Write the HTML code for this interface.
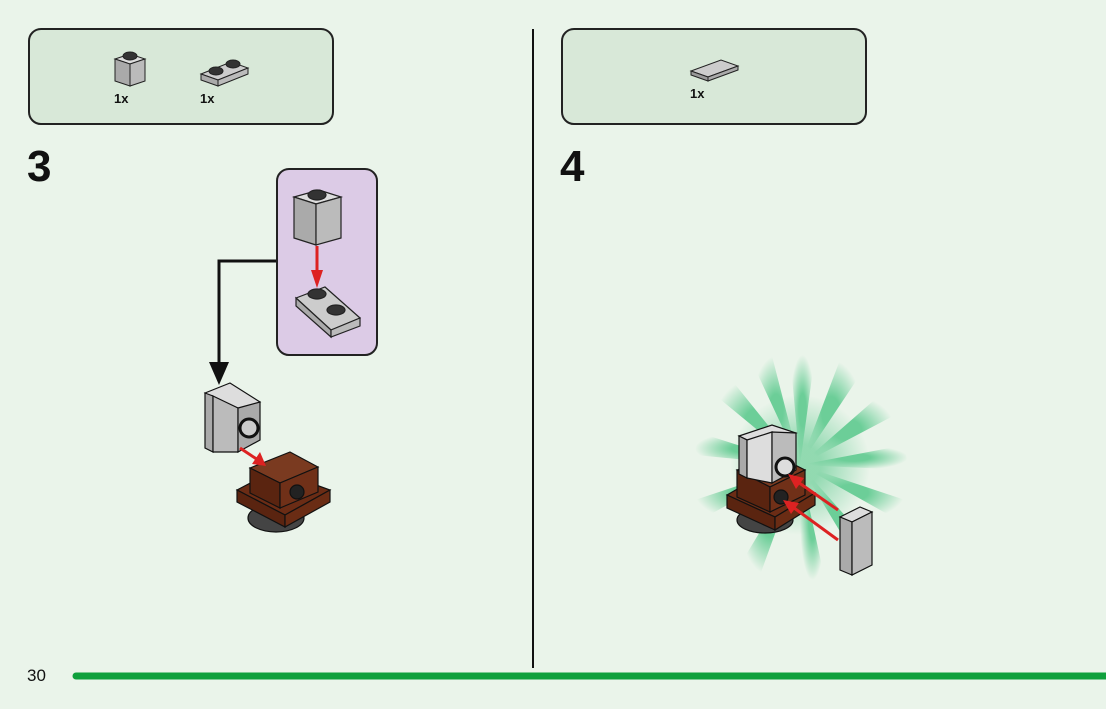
<!DOCTYPE html>
<html><head><meta charset="utf-8"><style>
html,body{margin:0;padding:0;background:#eaf4ea;}
svg{display:block}
text{font-family:"Liberation Sans",sans-serif;}
</style></head><body>
<svg width="1106" height="709" viewBox="0 0 1106 709" xmlns="http://www.w3.org/2000/svg">
<defs>
<radialGradient id="g" cx="0.5" cy="0.5" r="0.5">
<stop offset="0.3" stop-color="#6cce98" stop-opacity="1"/>
<stop offset="1" stop-color="#6cce98" stop-opacity="0"/>
</radialGradient>
</defs>
<rect width="1106" height="709" fill="#eaf4ea"/>
<rect x="29" y="29" width="304" height="95" rx="12" fill="#d8e8d8" stroke="#222" stroke-width="2"/>
<rect x="562" y="29" width="304" height="95" rx="12" fill="#d8e8d8" stroke="#222" stroke-width="2"/>
<g stroke="#222" stroke-width="1">
<polygon points="115,59 130,54 145,59 130,64" fill="#ddd"/>
<polygon points="115,59 130,64 130,86 115,81" fill="#aaa"/>
<polygon points="130,64 145,59 145,81 130,86" fill="#bbb"/>
<ellipse cx="130" cy="56" rx="7" ry="4" fill="#333"/>
<polygon points="201,74 231,62 248,68 218,80" fill="#ccc"/>
<polygon points="201,74 218,80 218,86 201,80" fill="#aaa"/>
<polygon points="218,80 248,68 248,74 218,86" fill="#bbb"/>
<ellipse cx="216" cy="71" rx="7" ry="4" fill="#333"/>
<ellipse cx="233" cy="64" rx="7" ry="4" fill="#333"/>
<polygon points="691,71 721,60 738,66 708,77" fill="#ccc"/>
<polygon points="691,71 708,77 708,81 691,75" fill="#999"/>
<polygon points="708,77 738,66 738,70 708,81" fill="#aaa"/>
</g>
<text x="114" y="103" font-size="13" font-weight="bold" fill="#111">1x</text>
<text x="200" y="103" font-size="13" font-weight="bold" fill="#111">1x</text>
<text x="690" y="98" font-size="13" font-weight="bold" fill="#111">1x</text>
<text x="27" y="181" font-size="44" font-weight="bold" fill="#111">3</text>
<text x="560" y="181" font-size="44" font-weight="bold" fill="#111">4</text>
<line x1="533" y1="29" x2="533" y2="668" stroke="#111" stroke-width="2"/>
<text x="27" y="681" font-size="17" fill="#111">30</text>
<line x1="76" y1="676" x2="1106" y2="676" stroke="#0fa03c" stroke-width="7" stroke-linecap="round"/>
<polyline points="277,261 219,261 219,370" fill="none" stroke="#111" stroke-width="3"/>
<polygon points="209,362 229,362 219,385" fill="#111"/>
<rect x="277" y="169" width="100" height="186" rx="12" fill="#dccbe6" stroke="#222" stroke-width="2"/>
<g stroke="#222" stroke-width="1.2">
<polygon points="294,197 319,190 341,197 316,204" fill="#ddd"/>
<polygon points="294,197 316,204 316,245 294,238" fill="#aaa"/>
<polygon points="316,204 341,197 341,238 316,245" fill="#bbb"/>
<ellipse cx="317" cy="195" rx="9" ry="5" fill="#333"/>
<polygon points="296,298 325,287 360,318 331,330" fill="#ccc"/>
<polygon points="296,298 331,330 331,337 296,306" fill="#aaa"/>
<polygon points="331,330 360,318 360,326 331,337" fill="#bbb"/>
<ellipse cx="317" cy="294" rx="9" ry="5" fill="#333"/>
<ellipse cx="336" cy="310" rx="9" ry="5" fill="#333"/>
</g>
<line x1="317" y1="246" x2="317" y2="275" stroke="#d22" stroke-width="3"/>
<polygon points="311,270 323,270 317,288" fill="#d22"/>
<g stroke="#111" stroke-width="1.2">
<ellipse cx="276" cy="518" rx="28" ry="14" fill="#444"/>
<polygon points="237,490 275,470 330,490 285,515" fill="#6b2c15"/>
<polygon points="237,490 285,515 285,527 237,502" fill="#5a2410"/>
<polygon points="285,515 330,490 330,502 285,527" fill="#6a2c14"/>
<polygon points="250,468 290,452 318,467 280,483" fill="#7a3a20"/>
<polygon points="250,468 280,483 280,508 250,493" fill="#5a2410"/>
<polygon points="280,483 318,467 318,492 280,508" fill="#703018"/>
<circle cx="297" cy="492" r="7" fill="#222"/>
<polygon points="205,393 230,383 260,402 235,412" fill="#ddd"/>
<polygon points="205,393 213,396 213,452 205,448" fill="#aaa"/>
<polygon points="213,396 238,408 238,452 213,452" fill="#bbb"/>
<polygon points="238,408 260,402 260,440 238,452" fill="#aaa"/>
<circle cx="249" cy="428" r="9" fill="#ccc" stroke-width="3"/>
</g>
<line x1="240" y1="448" x2="258" y2="460" stroke="#d22" stroke-width="3"/>
<polygon points="252,464 266,466 260,452" fill="#d22"/>
<!-- burst rays -->
<g fill="url(#g)">
<polygon points="800,465 790,355 815,355"/>
<polygon points="800,465 840,360 862,372"/>
<polygon points="800,465 880,395 895,415"/>
<polygon points="800,465 905,445 908,470"/>
<polygon points="800,465 905,500 898,520"/>
<polygon points="800,465 880,555 862,568"/>
<polygon points="800,465 825,580 800,580"/>
<polygon points="800,465 760,575 740,565"/>
<polygon points="800,465 700,520 695,500"/>
<polygon points="800,465 695,455 697,432"/>
<polygon points="800,465 715,395 730,378"/>
<polygon points="800,465 752,362 772,356"/>
</g>
<circle cx="800" cy="465" r="70" fill="url(#g)" opacity="0.7"/>
<g stroke="#111" stroke-width="1.2">
<ellipse cx="765" cy="520" rx="28" ry="13" fill="#444"/>
<polygon points="727,495 765,473 815,493 775,517" fill="#6b2c15"/>
<polygon points="727,495 775,517 775,530 727,508" fill="#5a2410"/>
<polygon points="775,517 815,493 815,505 775,530" fill="#6a2c14"/>
<polygon points="737,470 775,455 805,470 770,487" fill="#7a3a20"/>
<polygon points="737,470 770,487 770,512 737,497" fill="#5a2410"/>
<polygon points="770,487 805,470 805,495 770,512" fill="#703018"/>
<circle cx="781" cy="497" r="7" fill="#222"/>
<polygon points="739,436 772,425 796,433 760,446" fill="#ddd"/>
<polygon points="739,436 747,440 747,478 739,474" fill="#aaa"/>
<polygon points="747,440 772,432 772,483 747,478" fill="#ddd"/>
<polygon points="772,432 796,433 796,470 772,483" fill="#bbb"/>
<circle cx="785" cy="467" r="9" fill="#ddd" stroke-width="3"/>
<polygon points="840,517 860,507 872,512 852,522" fill="#ddd"/>
<polygon points="840,517 852,522 852,575 840,570" fill="#aaa"/>
<polygon points="852,522 872,512 872,565 852,575" fill="#bbb"/>
</g>
<line x1="838" y1="510" x2="795" y2="480" stroke="#d22" stroke-width="3"/>
<polygon points="788,474 804,478 796,489" fill="#d22"/>
<line x1="838" y1="540" x2="790" y2="505" stroke="#d22" stroke-width="3"/>
<polygon points="783,500 799,503 791,514" fill="#d22"/>
</svg>
</body></html>
